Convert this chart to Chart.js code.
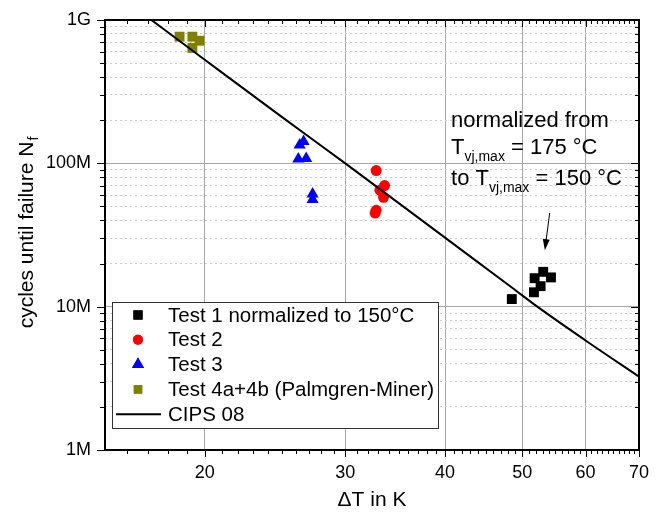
<!DOCTYPE html>
<html>
<head>
<meta charset="utf-8">
<script src="https://cdn.jsdelivr.net/npm/chart.js@4/dist/chart.umd.min.js"></script>
<style>
  html, body { margin: 0; padding: 0; background: #fff; }
</style>
</head>
<body>
<canvas id="chart" width="663" height="518"></canvas>
<script>
const seriesNames = ['Test 1 normalized to 150°C', 'Test 2', 'Test 3', 'Test 4a+4b (Palmgren-Miner)', 'CIPS 08'];

// values (ΔT in K, cycles)
const test1DeltaT = [48.5, 51.8, 53.1, 54.3, 52.7, 51.7];
const test1Cycles = [11.3e6, 15.8e6, 17.5e6, 16.0e6, 13.9e6, 12.6e6];

const test2DeltaT = [32.8, 33.6, 33.15, 33.5, 32.8, 32.7];
const test2Cycles = [89e6, 70e6, 65e6, 58e6, 47e6, 45e6];

const test3DeltaT = [26.3, 26.6, 26.2, 26.8, 27.3, 27.3];
const test3Cycles = [134e6, 142e6, 107e6, 108e6, 61e6, 56e6];

const test4DeltaT = [18.6, 19.3, 19.7, 19.3];
const test4Cycles = [765e6, 765e6, 717e6, 638e6];

const cipsDeltaT = [17.15, 20, 25, 30, 40, 48.6, 52.2, 60, 70];
const cipsCycles = [1000e6, 528e6, 210e6, 100e6, 30.3e6, 13.5e6, 10e6, 5.81e6, 3.25e6];

// axes
const xMajorTicks = [20, 30, 40, 50, 60, 70];
const yMajorTicks = [1e6, 1e7, 1e8, 1e9];
const yTickLabels = ['1M', '10M', '100M', '1G'];

const xTicks = [];
for (let v = 16; v <= 70; v++) xTicks.push(v);
const yTicks = [];
[1e6, 1e7, 1e8].forEach(d => { for (let m = 1; m < 10; m++) yTicks.push(m * d); });
yTicks.push(1e9);

const FONT = "'Liberation Sans', Arial, sans-serif";
const GRID_MAJOR = '#a8a8a8';
const GRID_MINOR = '#cccccc';

const toPoints = (xs, ys) => xs.map((x, i) => ({ x: x, y: ys[i] }));

const markers = [
    { style: 'rect', color: '#000000', radius: 7, legendRadius: 6.5 },
    { style: 'circle', color: '#ff0000', radius: 5.5, legendRadius: 5 },
    { style: 'triangle', color: '#0000ff', radius: 7, legendRadius: 7 },
    { style: 'rect', color: '#808000', radius: 7, legendRadius: 6 }
];

const pointSets = [
    toPoints(test1DeltaT, test1Cycles),
    toPoints(test2DeltaT, test2Cycles),
    toPoints(test3DeltaT, test3Cycles),
    toPoints(test4DeltaT, test4Cycles)
];

const datasets = pointSets.map((pts, i) => ({
    label: seriesNames[i],
    data: pts,
    pointStyle: markers[i].style,
    pointRadius: markers[i].radius,
    pointBackgroundColor: markers[i].color,
    pointBorderColor: markers[i].color,
    pointBorderWidth: 0,
    showLine: false
}));
datasets.push({
    label: seriesNames[4],
    data: toPoints(cipsDeltaT, cipsCycles),
    showLine: true,
    cubicInterpolationMode: 'monotone',
    borderColor: '#000',
    borderWidth: 2,
    pointRadius: 0,
    order: -1
});

// frame, inward/outward tick marks, titles, legend, annotation
const decorPlugin = {
    id: 'decor',
    afterDraw(chart) {
        const { ctx, chartArea: a, scales: { x, y } } = chart;
        ctx.save();

        const line = (x1, y1, x2, y2) => {
            ctx.beginPath(); ctx.moveTo(x1, y1); ctx.lineTo(x2, y2); ctx.stroke();
        };

        ctx.strokeStyle = '#000';
        ctx.lineWidth = 1;
        xTicks.forEach(v => {
            const px = Math.round(x.getPixelForValue(v)) + 0.5;
            const major = xMajorTicks.includes(v);
            line(px, a.bottom, px, a.bottom + (major ? 7 : 4));
            line(px, a.top, px, a.top + (major ? 7 : 4));
        });
        yTicks.forEach(v => {
            const py = Math.round(y.getPixelForValue(v)) + 0.5;
            const major = yMajorTicks.includes(v);
            line(a.left - (major ? 8 : 5), py, a.left, py);
            line(a.right - (major ? 8 : 4), py, a.right, py);
        });

        ctx.lineWidth = 2;
        ctx.strokeRect(a.left, a.top, a.right - a.left, a.bottom - a.top);

        // axis titles
        ctx.fillStyle = '#000';
        ctx.font = '21px ' + FONT;
        ctx.textAlign = 'center';
        ctx.textBaseline = 'middle';
        ctx.fillText('ΔT in K', (a.left + a.right) / 2, 500);

        ctx.save();
        ctx.translate(33, 233);
        ctx.rotate(-Math.PI / 2);
        ctx.textBaseline = 'alphabetic';
        ctx.textAlign = 'left';
        const mainT = 'cycles until failure N';
        ctx.font = '21px ' + FONT;
        const w1 = ctx.measureText(mainT).width;
        ctx.font = '14px ' + FONT;
        const w2 = ctx.measureText('f').width;
        const sx = -(w1 + w2) / 2;
        ctx.font = '21px ' + FONT;
        ctx.fillText(mainT, sx, 0);
        ctx.font = '14px ' + FONT;
        ctx.fillText('f', sx + w1 + 1, 5);
        ctx.restore();

        // annotation
        const ax = x.getPixelForValue(40.7);
        const ay = y.getPixelForValue(1.8e8);
        const parts = (segs, px, py) => {
            segs.forEach(s => {
                ctx.font = (s.sub ? '14px ' : '22px ') + FONT;
                ctx.fillText(s.t, px, py + (s.sub ? 7 : 0));
                px += ctx.measureText(s.t).width;
            });
        };
        ctx.textAlign = 'left';
        ctx.textBaseline = 'alphabetic';
        parts([{ t: 'normalized from' }], ax, ay);
        parts([{ t: 'T' }, { t: 'vj,max', sub: true }, { t: ' = 175 °C' }], ax, ay + 27);
        parts([{ t: 'to T' }, { t: 'vj,max', sub: true }, { t: ' = 150 °C' }], ax, ay + 58);

        // arrow
        const x1 = x.getPixelForValue(54.1), y1 = y.getPixelForValue(4.5e7);
        const x2 = x.getPixelForValue(53.35), y2 = y.getPixelForValue(2.48e7);
        const ang = Math.atan2(y2 - y1, x2 - x1);
        ctx.lineWidth = 1;
        line(x1, y1, x2 - Math.cos(ang) * 6, y2 - Math.sin(ang) * 6);
        ctx.beginPath();
        ctx.moveTo(x2, y2);
        ctx.lineTo(x2 - Math.cos(ang) * 11 + Math.sin(ang) * 3.5, y2 - Math.sin(ang) * 11 - Math.cos(ang) * 3.5);
        ctx.lineTo(x2 - Math.cos(ang) * 11 - Math.sin(ang) * 3.5, y2 - Math.sin(ang) * 11 + Math.cos(ang) * 3.5);
        ctx.closePath();
        ctx.fill();

        // legend
        const lx = a.left + 7, ly = 302, lw = 326, lh = 126;
        ctx.fillStyle = '#fff';
        ctx.fillRect(lx, ly, lw, lh);
        ctx.strokeStyle = '#333';
        ctx.lineWidth = 1;
        ctx.strokeRect(lx + 0.5, ly + 0.5, lw, lh);
        ctx.font = '20.5px ' + FONT;
        ctx.textBaseline = 'middle';
        ctx.textAlign = 'left';
        seriesNames.forEach((name, i) => {
            const ry = ly + 13 + i * 24.8;
            if (i < markers.length) {
                const m = markers[i];
                ctx.fillStyle = m.color;
                Chart.helpers.drawPoint(ctx, { pointStyle: m.style, radius: m.legendRadius, borderWidth: 0, rotation: 0 }, lx + 26, ry);
                ctx.fill();
            } else {
                ctx.strokeStyle = '#000';
                ctx.lineWidth = 2;
                line(lx + 4, ry, lx + 49, ry);
            }
            ctx.fillStyle = '#000';
            ctx.fillText(name, lx + 56, ry + 1);
        });

        ctx.restore();
    }
};

new Chart(document.getElementById('chart'), {
    type: 'scatter',
    data: { datasets: datasets },
    plugins: [decorPlugin],
    options: {
        responsive: false,
        animation: false,
        layout: { padding: { top: 20, right: 24, bottom: 0, left: 0 } },
        plugins: { legend: { display: false }, tooltip: { enabled: false } },
        scales: {
            x: {
                type: 'logarithmic',
                min: 15,
                max: 70,
                afterBuildTicks: s => { s.ticks = xTicks.map(v => ({ value: v })); },
                afterFit: s => { s.height = 68; s.paddingLeft = 0; s.paddingRight = 0; },
                grid: {
                    drawTicks: false,
                    color: c => (c.tick && xMajorTicks.includes(c.tick.value)) ? GRID_MAJOR : 'rgba(0,0,0,0)',
                    lineWidth: 1
                },
                border: { display: false },
                ticks: {
                    autoSkip: false,
                    maxRotation: 0,
                    minRotation: 0,
                    padding: 12,
                    color: '#000',
                    font: { family: FONT, size: 18 },
                    callback: v => xMajorTicks.includes(v) ? String(v) : ''
                }
            },
            y: {
                type: 'logarithmic',
                min: 1e6,
                max: 1e9,
                afterBuildTicks: s => { s.ticks = yTicks.map(v => ({ value: v })); },
                afterFit: s => { s.width = 105; s.paddingTop = 0; s.paddingBottom = 0; },
                grid: {
                    drawTicks: false,
                    color: c => (c.tick && yMajorTicks.includes(c.tick.value)) ? GRID_MAJOR : GRID_MINOR,
                    lineWidth: 1
                },
                border: {
                    display: false,
                    dash: c => (c.tick && yMajorTicks.includes(c.tick.value)) ? [] : [2, 3]
                },
                ticks: {
                    autoSkip: false,
                    padding: 14,
                    color: '#000',
                    font: { family: FONT, size: 18 },
                    callback: v => {
                        const i = yMajorTicks.indexOf(v);
                        return i >= 0 ? yTickLabels[i] : '';
                    }
                }
            }
        }
    }
});
</script>
</body>
</html>
